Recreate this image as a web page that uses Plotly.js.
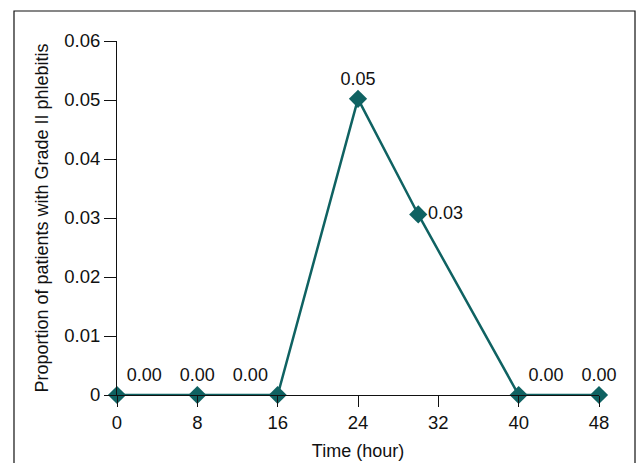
<!DOCTYPE html>
<html><head><meta charset="utf-8">
<script src="https://cdn.plot.ly/plotly-3.0.1.min.js"></script>
<style>html,body{margin:0;padding:0;background:#fff}#chart{width:636px;height:463px}</style>
</head><body><div id="chart"></div>
<script>
const hours = [0, 8, 16, 24, 30, 40, 48];
const proportion = [0, 0, 0, 0.0502, 0.0306, 0, 0];
const pointLabels = ["0.00", "0.00", "0.00", "0.05", "0.03", "0.00", "0.00"];
const labelPositions = ["top right", "top center", "top left", "top center", "middle right", "top right", "top center"];
const xTicks = [0, 8, 16, 24, 32, 40, 48];
const yTicks = [0, 0.01, 0.02, 0.03, 0.04, 0.05, 0.06];
const yTickText = ["0", "0.01", "0.02", "0.03", "0.04", "0.05", "0.06"];

const teal = "#0f6262";
const fam = "Liberation Sans, Arial, sans-serif";
const trace = {
  x: hours, y: proportion, mode: "lines+markers+text",
  text: pointLabels, textposition: labelPositions,
  textfont: {family: fam, size: 18, color: "#111"},
  line: {color: teal, width: 2.5},
  marker: {symbol: "diamond", size: 14, color: teal},
  cliponaxis: false, hoverinfo: "none"
};
const layout = {
  width: 636, height: 463,
  margin: {l: 117, r: 37, t: 41, b: 68},
  paper_bgcolor: "#fff", plot_bgcolor: "#fff",
  font: {family: fam, size: 18, color: "#111"},
  showlegend: false,
  xaxis: {range: [0, 48], tickvals: xTicks, ticks: "outside", ticklen: 11, tickcolor: "#111",
    tickfont: {family: fam, size: 18.5, color: "#111"},
    showline: true, linecolor: "#111", linewidth: 1, showgrid: false, zeroline: false,
    title: {text: "Time (hour)", standoff: 12, font: {family: fam, size: 18}}},
  yaxis: {range: [0, 0.06], tickvals: yTicks, ticktext: yTickText, ticks: "outside", ticklen: 12, tickcolor: "#111",
    tickfont: {family: fam, size: 18.5, color: "#111"},
    showline: true, linecolor: "#111", linewidth: 1, showgrid: false, zeroline: false,
    title: {text: "Proportion of patients with Grade II phlebitis", standoff: 10, font: {family: fam, size: 18}}},
  shapes: [{type: "rect", xref: "paper", yref: "paper",
    x0: -0.2137, x1: 1.0747, y0: -0.25, y1: 1.0847,
    line: {color: "#111", width: 1.2}, fillcolor: "rgba(0,0,0,0)", layer: "below"}]
};
Plotly.newPlot("chart", [trace], layout, {displayModeBar: false, staticPlot: true});
</script></body></html>
